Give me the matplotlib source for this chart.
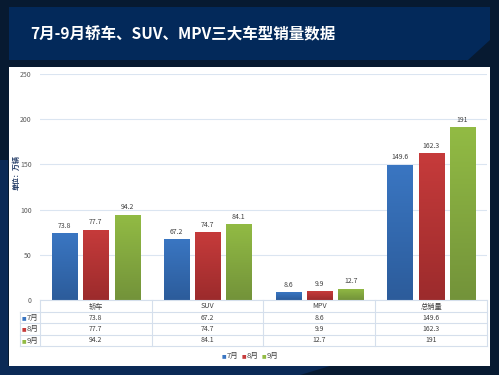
import numpy as np
import matplotlib
matplotlib.use("Agg")
import matplotlib.pyplot as plt
from matplotlib.patches import Rectangle, Polygon
from matplotlib.colors import LinearSegmentedColormap
import matplotlib.transforms as mtransforms

plt.rcParams['font.family'] = ['Noto Sans CJK SC', 'DejaVu Sans']

categorias = ['轿车', 'SUV', 'MPV', '总销量']
meses = ['7月', '8月', '9月']
ventas_jul = [73.8, 67.2, 8.6, 149.6]
ventas_ago = [77.7, 74.7, 9.9, 162.3]
ventas_sep = [94.2, 84.1, 12.7, 191]
etiquetas_tabla = [['73.8', '67.2', '8.6', '149.6'],
                   ['77.7', '74.7', '9.9', '162.3'],
                   ['94.2', '84.1', '12.7', '191']]
yticks = [0, 50, 100, 150, 200, 250]

titulo = '7月-9月轿车、SUV、MPV三大车型销量数据'
colores = ['#3a76c2', '#c63b3b', '#92bb44']
colores_osc = ['#2c5c9b', '#9c2b2c', '#73933a']

W, H = 499, 375
fig = plt.figure(figsize=(W / 100, H / 100), dpi=100)
fig.patch.set_facecolor('#071a31')

def px(x, y):
    # pixeles (desde arriba) a coordenadas de figura
    return x / W, 1 - y / H

# fondo azul abajo a la izquierda
fig.add_artist(Polygon([px(0, 160), px(8, 160), px(8, 366), px(330, 366),
                        px(300, 375), px(0, 375)], closed=True, zorder=-3,
                       transform=fig.transFigure, facecolor='#0b2a56', edgecolor='none'))
# banner del titulo
fig.add_artist(Polygon([px(9, 7), px(490, 7), px(490, 40), px(468, 60), px(9, 60)],
                       closed=True, transform=fig.transFigure, zorder=-2,
                       facecolor='#03295a', edgecolor='none'))
fig.text(30 / W, 1 - 34 / H, titulo, color='white', fontsize=11.2,
         fontweight='bold', va='center', ha='left')
# panel blanco
fig.add_artist(Rectangle(px(9, 366), 481 / W, 299 / H, transform=fig.transFigure,
                         facecolor='white', edgecolor='none', zorder=-2))

ax = fig.add_axes([40 / W, 1 - 300 / H, 447 / W, 226 / H])
ax.set_facecolor('none')
ax.set_xlim(-0.5, 3.5)
ax.set_ylim(0, 250)
for s in ax.spines.values():
    s.set_visible(False)
ax.set_yticks(yticks)
ax.tick_params(axis='y', length=0, labelsize=5, labelcolor='#595959', pad=6)
ax.set_xticks([])
ax.yaxis.grid(True, color='#dbe5f1', linewidth=0.8)
ax.set_axisbelow(True)

x = np.arange(len(categorias))
ancho = 0.225
paso = 0.28
series = [ventas_jul, ventas_ago, ventas_sep]
grad = np.linspace(0, 1, 100).reshape(-1, 1)
for i, valores in enumerate(series):
    pos = x + (i - 1) * paso
    barras = ax.bar(pos, valores, ancho, color=colores[i], zorder=2)
    cmap = LinearSegmentedColormap.from_list('g%d' % i, [colores_osc[i], colores[i]])
    for b, v in zip(barras, valores):
        im = ax.imshow(grad, cmap=cmap, aspect='auto', origin='lower', zorder=3,
                       extent=[b.get_x(), b.get_x() + b.get_width(), 0, v])
        im.set_clip_path(b)
        ax.annotate(f'{v:g}', (b.get_x() + b.get_width() / 2, v),
                    xytext=(0, 2.5), textcoords='offset points', ha='center',
                    va='bottom', fontsize=5, color='#404040')
ax.set_xlim(-0.5, 3.5)
ax.set_ylim(0, 250)

fig.text(16 / W, 1 - 172 / H, '单位：万辆', rotation=90, fontsize=5,
         color='#1f3864', fontweight='bold', va='center', ha='center')

# tabla de datos
linea = '#d5dfec'
filas_y = [312, 323, 335, 346]
fig.add_artist(plt.Line2D([40 / W, 487 / W], [1 - 300 / H] * 2, color=linea, lw=0.8))
for yy in filas_y:
    fig.add_artist(plt.Line2D([20 / W, 487 / W], [1 - yy / H] * 2, color=linea, lw=0.8))
for xx in [40, 152, 263, 375, 487]:
    fig.add_artist(plt.Line2D([xx / W] * 2, [1 - 300 / H, 1 - 346 / H], color=linea, lw=0.8))
fig.add_artist(plt.Line2D([20 / W] * 2, [1 - 312 / H, 1 - 346 / H], color=linea, lw=0.8))

tr = mtransforms.blended_transform_factory(ax.transData, fig.transFigure)
for j, c in enumerate(categorias):
    fig.text(x[j], 1 - 306.5 / H, c, transform=tr, ha='center', va='center',
             fontsize=5.2, color='#404040')
centros_fila = [317.5, 329, 340.5]
for i, m in enumerate(meses):
    yy = 1 - centros_fila[i] / H
    fig.text(22 / W, yy, '■', color=colores[i], fontsize=3.5, ha='left', va='center',
             family='DejaVu Sans')
    fig.text(27 / W, yy, m, color='#404040', fontsize=5.5, ha='left', va='center')
    for j in range(len(categorias)):
        fig.text(x[j], yy, etiquetas_tabla[i][j], transform=tr, ha='center',
                 va='center', fontsize=5, color='#404040')

# leyenda
ley_x = [222, 242, 262]
for i, m in enumerate(meses):
    fig.text(ley_x[i] / W, 1 - 356 / H, '■', color=colores[i], fontsize=3.5,
             ha='left', va='center', family='DejaVu Sans')
    fig.text((ley_x[i] + 5) / W, 1 - 356 / H, m, color='#404040', fontsize=5.5,
             ha='left', va='center')

fig.savefig('out.png', dpi=100, facecolor=fig.get_facecolor())
